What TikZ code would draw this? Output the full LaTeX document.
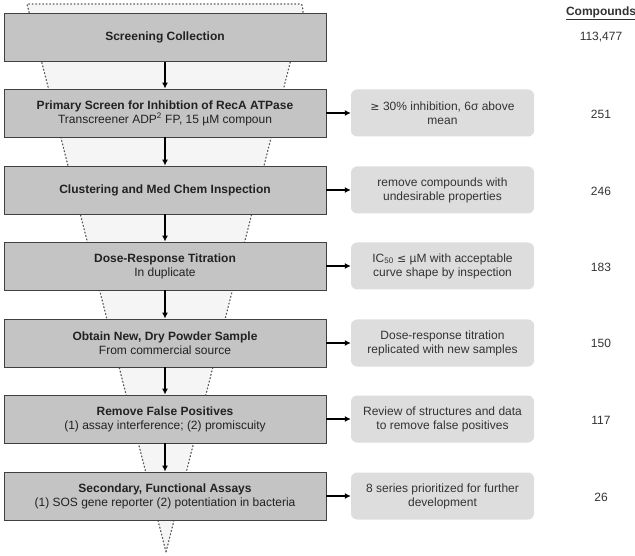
\documentclass[tikz,border=0pt]{standalone}
\usepackage{fontspec}
\setmainfont{Liberation Sans}
\newfontfamily\symfont{DejaVu Sans}
\usetikzlibrary{arrows.meta,shadows}
\definecolor{boxgray}{HTML}{C4C4C4}
\definecolor{sidegray}{HTML}{DDDDDD}
\definecolor{funnelgray}{HTML}{F5F5F5}
\definecolor{txt}{HTML}{222222}
\tikzset{
  mainbox/.style={draw=black!75, line width=0.8pt, fill=boxgray, minimum width=322pt, minimum height=48pt,
    align=center, font=\fontsize{12}{14}\selectfont, text=txt, inner sep=0pt,
    drop shadow={shadow xshift=1pt, shadow yshift=-1pt, fill=black!25, opacity=0.6}},
  sidebox/.style={fill=sidegray, rounded corners=6pt, minimum width=183pt, minimum height=47pt,
    align=center, font=\fontsize{12}{14}\selectfont, text=black!80, inner sep=0pt},
  numlabel/.style={font=\fontsize{12}{14}\selectfont, text=black!80},
  flowarrow/.style={-{Latex[length=6pt,width=6pt]}, line width=1.4pt, black}
}
\begin{document}
\begin{tikzpicture}[x=1pt,y=-1pt]
\useasboundingbox (0,0) rectangle (635,556);
% funnel
\coordinate (fA) at (27,4);
\coordinate (fB) at (300,4);
\coordinate (fC) at (166,552);
\fill[funnelgray] (fA) -- (fB) -- (303,9) -- (fC) -- cycle;
\draw[line width=1.2pt, black!65, dash pattern=on 1pt off 2.5pt, line cap=round] (fC) -- (fA) -- (fB) to[out=0,in=100] (303,12) -- (fC);
% main boxes
\node[mainbox] (m1) at (165,37.5) {\textbf{Screening Collection}};
\node[mainbox] (m2) at (165,113) {\textbf{Primary Screen for Inhibtion of RecA ATPase}\\Transcreener ADP\textsuperscript{2} FP, 15 µM compoun};
\node[mainbox] (m3) at (165,190) {\textbf{Clustering and Med Chem Inspection}};
\node[mainbox] (m4) at (165,266) {\textbf{Dose-Response Titration}\\In duplicate};
\node[mainbox] (m5) at (165,343) {\textbf{Obtain New, Dry Powder Sample}\\From commercial source};
\node[mainbox] (m6) at (165,419) {\textbf{Remove False Positives}\\(1) assay interference; (2) promiscuity};
\node[mainbox] (m7) at (165,496) {\textbf{Secondary, Functional Assays}\\(1) SOS gene reporter (2) potentiation in bacteria};
% side boxes
\node[sidebox] (s2) at (442.5,113) {{\symfont\fontsize{11}{14}\selectfont ≥} 30\% inhibition, 6σ above\\mean};
\node[sidebox] (s3) at (442.5,190) {remove compounds with\\undesirable properties};
\node[sidebox] (s4) at (442.5,266) {IC\textsubscript{50} {\symfont\fontsize{11}{14}\selectfont ≤} µM with acceptable\\curve shape by inspection};
\node[sidebox] (s5) at (442.5,343) {Dose-response titration\\replicated with new samples};
\node[sidebox] (s6) at (442.5,419) {Review of structures and data\\to remove false positives};
\node[sidebox] (s7) at (442.5,496) {8 series prioritized for further\\development};
% numbers
\node[numlabel, font=\bfseries\fontsize{12}{14}\selectfont] (hdr) at (601,13) {\underline{Compounds}};
\node[numlabel] (n1) at (601,37) {113,477};
\node[numlabel] (n2) at (601,114) {251};
\node[numlabel] (n3) at (601,191) {246};
\node[numlabel] (n4) at (601,267) {183};
\node[numlabel] (n5) at (601,343) {150};
\node[numlabel] (n6) at (601,420) {117};
\node[numlabel] (n7) at (601,497) {26};
% vertical arrows
\foreach \a/\b in {m1/m2,m2/m3,m3/m4,m4/m5,m5/m6,m6/m7}
  \draw[flowarrow] (\a.south) -- (\b.north);
% horizontal arrows
\foreach \i in {2,...,7}
  \draw[flowarrow] (m\i.east) -- (s\i.west);
\end{tikzpicture}
\end{document}
